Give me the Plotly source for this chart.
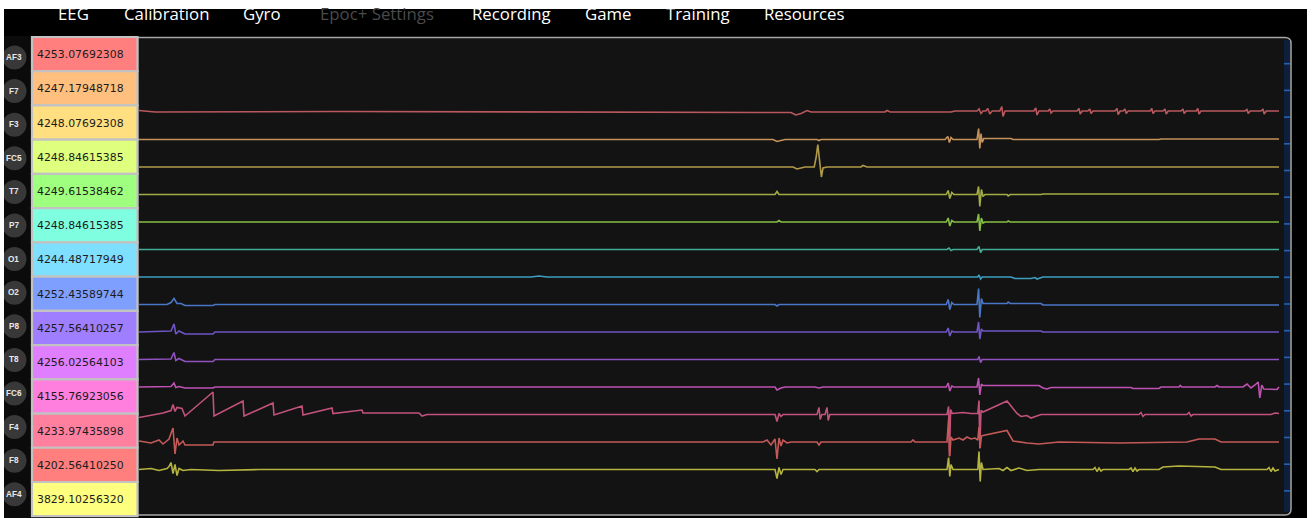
import plotly.graph_objects as go

W, H = 1314, 518

# ---------------- data ----------------
CHANNELS = ["AF3", "F7", "F3", "FC5", "T7", "P7", "O1", "O2", "P8", "T8", "FC6", "F4", "F8", "AF4"]
READOUTS = ["4253.07692308", "4247.17948718", "4248.07692308", "4248.84615385", "4249.61538462",
            "4248.84615385", "4244.48717949", "4252.43589744", "4257.56410257", "4256.02564103",
            "4155.76923056", "4233.97435898", "4202.56410250", "3829.10256320"]
BOX_COLORS = ["#ff7f7f", "#ffbf7f", "#ffdf7f", "#dfff7f", "#9fff7f", "#7fffdf", "#7fdfff",
              "#7f9fff", "#9f7fff", "#df7fff", "#ff7fdf", "#ff7f9f", "#ff7f7f", "#ffff7f"]
TRACE_COLORS = ["#b9595f", "#c4925a", "#b09a48", "#a4ad45", "#86be44", "#42ad98", "#3c9fc0",
                "#4a76c6", "#6f55c6", "#8f52bf", "#bf52b3", "#c2527c", "#c45a58", "#b4b43e"]
MENU = ["EEG", "Calibration", "Gyro", "Epoc+ Settings", "Recording", "Game", "Training", "Resources"]

# (time s, deviation µV)
AF3 = [(0, 3), (0.4, 0), (5, 1), (10, 0), (15.4, 0), (16.3, -1), (16.42, -6), (16.55, -3), (16.7, 3),
       (16.8, 0), (18.65, 0), (18.7, 3), (18.78, 0), (20.3, 0), (20.4, 2),
       (20.95, 2), (21.0, 6), (21.05, -3), (21.1, 2), (21.17, 2), (21.22, 7), (21.27, -4), (21.33, 2),
       (21.52, 2), (21.57, 11), (21.6, -9), (21.65, 2), (22.37, 2), (22.42, 8), (22.45, -6), (22.5, 2),
       (22.73, 2), (22.77, 6), (22.8, -2), (22.85, 2), (23.45, 2), (23.5, 7), (23.53, -4), (23.58, 2),
       (23.72, 2), (23.77, 6), (23.8, -3), (23.85, 2), (24.4, 2), (24.45, 7), (24.48, -5), (24.53, 2),
       (24.6, 2), (24.65, 6), (24.68, -3), (24.73, 2), (25.28, 2), (25.32, 7), (25.35, -3), (25.4, 2),
       (25.6, 2), (25.65, 6), (25.68, -4), (25.73, 2), (26.05, 2), (26.1, 6), (26.13, -3), (26.18, 2),
       (26.43, 2), (26.47, 7), (26.5, -4), (26.55, 2), (27.65, 2), (27.7, 5), (27.73, -3), (27.78, 2),
       (28.05, 2), (28.1, 6), (28.13, -4), (28.18, 2), (28.5, 2)]
F7 = [(0, 0), (10, 0), (15.85, 0), (15.95, -4), (16.05, -2), (16.15, 0), (16.95, 0), (17.0, -2),
      (17.05, 0), (20.15, 0), (20.22, 6), (20.26, -6), (20.3, 4), (20.35, 0), (20.95, 0), (20.99, 22),
      (21.02, -18), (21.05, 12), (21.08, -6), (21.12, 2), (21.8, 2), (21.85, 0), (25.5, 0), (25.55, 1),
      (28.5, 1)]
F3 = [(0, 0), (16.35, 0), (16.45, -4), (16.55, -2), (16.65, 0), (16.88, 0), (16.93, 20), (16.97, 45),
      (17.02, 10), (17.06, -20), (17.1, -2), (17.2, 0), (18.05, 0), (18.1, 3), (18.2, 0), (28.5, 0)]
FC5 = [(0, 0), (15.9, 0), (15.95, 6), (16.0, 0), (20.18, 0), (20.23, 8), (20.27, -8), (20.32, 4),
       (20.37, 0), (20.95, 0), (20.99, 16), (21.02, -24), (21.06, 10), (21.1, -4), (21.15, 0),
       (21.7, 0), (21.73, -3), (21.78, 0), (22.55, 0), (22.6, 1), (28.5, 1)]
T7 = [(0, 0), (15.95, 0), (16.0, 3), (16.05, 0), (20.18, 0), (20.23, 8), (20.27, -8), (20.32, 3),
      (20.37, 0), (20.95, 0), (20.99, 16), (21.02, -18), (21.06, 8), (21.1, -2), (21.15, 0),
      (21.7, 0), (21.73, 2), (21.78, 0), (28.5, 0)]
P7 = [(0, 0), (20.2, 0), (20.25, 3), (20.3, -2), (20.35, 0), (20.95, 0), (21.0, 6), (21.04, -6),
      (21.08, 0), (28.5, 0)]
O1 = [(0, 0), (9.8, 0), (10.0, 2), (10.2, 0), (20.97, 0), (21.0, 4), (21.04, -4), (21.08, 0),
      (21.8, 0), (21.9, -3), (22.3, -3), (22.4, -1), (22.45, -4), (22.55, -1), (22.6, 0), (28.5, 0)]
O2 = [(0, 0), (0.7, 0), (0.8, 4), (0.875, 12), (0.95, 2), (1.05, 2), (1.15, -2), (1.85, -2),
      (1.9, 0), (15.9, 0), (15.95, -3), (16.0, 0), (20.18, 0), (20.23, 10), (20.27, -10), (20.32, 4),
      (20.37, 0), (20.95, 0), (20.99, 32), (21.02, -26), (21.06, 12), (21.1, 2), (21.7, 2),
      (21.73, 5), (21.78, 2), (22.55, 2), (22.6, -1), (28.5, -1)]
P8 = [(0, 0), (0.5, 1), (0.8, 2), (0.875, 16), (0.92, -4), (1.0, 2), (1.1, -2), (1.15, -4),
      (1.85, -4), (1.9, 0), (20.18, 0), (20.23, 8), (20.27, -8), (20.32, 2), (20.37, 0), (20.95, 0),
      (20.99, 20), (21.02, -14), (21.06, 6), (21.1, 2), (22.55, 2), (22.6, 0), (28.5, 0)]
T8 = [(0, 0), (0.8, 1), (0.875, 14), (0.92, -2), (1.0, 2), (1.1, -2), (1.15, -4), (1.85, -4),
      (1.9, 0), (20.97, 0), (21.0, 6), (21.04, -6), (21.08, 0), (28.5, 0)]
FC6 = [(0, 0), (0.8, 1), (0.875, 8), (0.92, -1), (1.0, 1), (1.15, -2), (1.85, -2), (1.9, 0),
       (15.9, 0), (15.95, -6), (16.05, -2), (16.15, 0), (16.9, 0), (17.0, -2), (17.1, 0), (20.18, 0),
       (20.23, 8), (20.27, -8), (20.32, 2), (20.37, 0), (20.95, 0), (20.99, 18), (21.02, -16),
       (21.06, 6), (21.1, 3), (22.5, 3), (22.6, -2), (22.7, -4), (22.8, -1), (24.8, -1), (24.85, -3),
       (25.5, -3), (25.55, 0), (26.0, 0), (26.03, 3), (26.07, 0), (26.9, 0), (26.95, 3), (27.0, 0),
       (27.6, 0), (27.7, 6), (27.8, -2), (27.9, 4), (27.98, 10), (28.02, -22), (28.07, 4),
       (28.12, -4), (28.3, -4), (28.45, -5), (28.5, 0)]
F4 = [(0, -6), (0.6, 3), (0.8, 8), (0.85, 20), (0.9, 6), (0.95, 14), (1.075, 12), (1.15, -3),
      (1.85, 45), (1.875, -3), (2.6, 27), (2.625, -3), (3.35, 23), (3.375, -1), (4.075, 17),
      (4.1, -1), (4.825, 13), (4.85, 2), (5.575, 9), (5.6, 3), (7.0, 3), (7.075, -3), (7.2, 0),
      (15.9, 0), (15.95, -14), (16.0, 2), (16.05, -4), (16.1, 0), (16.95, 0), (17.0, 14),
      (17.03, -10), (17.07, 0), (17.15, 0), (17.2, 14), (17.23, -12), (17.27, 0), (20.2, 0),
      (20.24, 16), (20.26, -84), (20.29, 10), (20.33, 2), (20.6, 4), (20.8, 2), (20.97, 2),
      (21.0, 28), (21.02, -68), (21.05, 8), (21.1, 5), (21.7, 27), (21.95, 2), (22.05, -4),
      (22.2, -2), (22.3, -7), (22.45, -3), (22.55, 0), (25.0, 0), (25.05, 4), (25.1, -4),
      (25.15, 0), (26.2, 0), (26.25, 4), (26.3, -3), (26.35, 0), (28.3, 0), (28.4, 3), (28.5, 2)]
F8 = [(0, 2), (0.3, -2), (0.5, 4), (0.6, -4), (0.75, 6), (0.85, 28), (0.9, -24), (0.95, 8),
      (1.0, -6), (1.1, 2), (1.15, -6), (1.85, -6), (1.875, 0), (15.6, 0), (15.7, 4), (15.8, -6),
      (15.9, 6), (15.95, -34), (16.0, 8), (16.05, -8), (16.1, 4), (16.2, -2), (16.3, 0), (16.95, 0),
      (17.0, -6), (17.05, 0), (19.3, 0), (19.35, 4), (19.4, 0), (20.2, 0), (20.24, 46),
      (20.27, -28), (20.3, 10), (20.35, 4), (20.5, 8), (20.6, 4), (20.7, 10), (20.8, 6), (20.9, 8),
      (20.97, 4), (21.0, 30), (21.03, -12), (21.06, 12), (21.1, 13), (21.7, 23), (21.85, 2),
      (22.2, -2), (22.5, -4), (23.0, 0), (24.5, -2), (26.2, 0), (26.5, 6), (26.9, 6),
      (27.05, 0), (28.5, 0)]
AF4 = [(0, 0), (0.3, 2), (0.5, -2), (0.7, 2), (0.75, 6), (0.8, 14), (0.85, -8), (0.9, 10),
       (0.95, -12), (1.0, 2), (1.1, -2), (1.3, 0), (2.0, -2), (3.0, 0), (15.9, 0), (15.95, -18),
       (16.0, 4), (16.05, -10), (16.1, 0), (16.9, 0), (16.95, -4), (17.0, 0), (20.2, 0),
       (20.24, 24), (20.27, -14), (20.3, 10), (20.35, 0), (20.97, 0), (21.0, 36), (21.03, -24),
       (21.06, 14), (21.1, 0), (21.5, 2), (21.6, -2), (21.7, 4), (21.8, -2), (22.0, 3), (22.2, -2),
       (22.5, 0), (23.85, 0), (23.9, 4), (23.95, -4), (24.0, 3), (24.05, -3), (24.1, 0),
       (24.75, 0), (24.8, 3), (24.85, -4), (24.9, 3), (24.95, -3), (25.0, 0), (25.5, 0), (25.6, 5),
       (26.0, 7), (26.9, 5), (27.05, 0), (28.2, 0), (28.25, 4), (28.3, -4), (28.35, 3), (28.4, -3),
       (28.5, 0)]
SERIES = [AF3, F7, F3, FC5, T7, P7, O1, O2, P8, T8, FC6, F4, F8, AF4]

# ---------------- layout helpers ----------------
def px(x):
    return x / W

def py(y):
    return 1 - y / H

CH_SPACING = 55.0  # µV between stacked channels

fig = go.Figure()
for i, (name, pts) in enumerate(zip(CHANNELS, SERIES)):
    fig.add_trace(go.Scatter(
        x=[p[0] for p in pts],
        y=[p[1] - i * CH_SPACING for p in pts],
        mode="lines", name=name,
        line=dict(color=TRACE_COLORS[i], width=1.6),
        hoverinfo="skip", showlegend=False,
    ))

shapes = []
# left column backdrop
shapes.append(dict(type="rect", xref="paper", yref="paper", x0=px(4), x1=px(32), y0=py(518), y1=py(36),
                   fillcolor="#0b0b0b", line=dict(width=0), layer="below"))
# panel with rounded right corners
L, R, T, B, r = 137.5, 1291, 37.5, 515, 6
path = (f"M {px(L)} {py(T)} L {px(R - r)} {py(T)} Q {px(R)} {py(T)} {px(R)} {py(T + r)} "
        f"L {px(R)} {py(B - r)} Q {px(R)} {py(B)} {px(R - r)} {py(B)} L {px(L)} {py(B)} Z")
shapes.append(dict(type="path", xref="paper", yref="paper", path=path, fillcolor="#131313",
                   line=dict(color="#a6a6a6", width=1.5), layer="below"))
# scrollbar strip
shapes.append(dict(type="rect", xref="paper", yref="paper", x0=px(1284), x1=px(1290), y0=py(512),
                   y1=py(40), fillcolor="#0d1f3d", line=dict(width=0), layer="above"))
for k in range(17):
    yy = 63.7 + 26.7 * k
    shapes.append(dict(type="rect", xref="paper", yref="paper", x0=px(1284), x1=px(1290),
                       y0=py(yy + 0.8), y1=py(yy - 0.8), fillcolor="#2363b0", line=dict(width=0),
                       layer="above"))

annotations = []
BOX_TOP, BOX_PITCH = 37.0, 34.23
for i, name in enumerate(CHANNELS):
    t0 = BOX_TOP + BOX_PITCH * i
    shapes.append(dict(type="rect", xref="paper", yref="paper", x0=px(32), x1=px(137.5),
                       y0=py(t0 + BOX_PITCH), y1=py(t0), fillcolor=BOX_COLORS[i],
                       line=dict(color="#c2c2c2", width=2.2), layer="above"))
    annotations.append(dict(xref="paper", yref="paper", x=px(34.5), y=py(t0 + BOX_PITCH / 2 + 0.5),
                            xanchor="left", yanchor="middle", showarrow=False, text=READOUTS[i],
                            font=dict(family="DejaVu Sans", size=10.9, color="#1c1c1c")))
    cy = 57.5 + 33.6 * i
    shapes.append(dict(type="circle", xref="paper", yref="paper", x0=px(2.5), x1=px(26.5),
                       y0=py(cy + 12), y1=py(cy - 12), fillcolor="#383838", line=dict(width=0),
                       layer="above"))
    annotations.append(dict(xref="paper", yref="paper", x=px(13.5), y=py(cy), xanchor="center",
                            yanchor="middle", showarrow=False, text=f"<b>{name}</b>",
                            font=dict(family="Liberation Sans", size=8.2, color="#e8e8e8")))

# menu bar
MENU_X = [73, 166, 262, 377, 511, 608, 698, 804]
for label, xc in zip(MENU, MENU_X):
    annotations.append(dict(xref="paper", yref="paper", x=px(xc), y=py(13.8), xanchor="center",
                            yanchor="middle", showarrow=False, text=label,
                            font=dict(family="Open Sans", size=16.8,
                                      color="#4a4a4a" if label.startswith("Epoc") else "#ffffff")))

# white window edges
for x0, x1, y0, y1 in [(0, W, 0, 9), (0, 4, 0, H), (1307, W, 0, H)]:
    shapes.append(dict(type="rect", xref="paper", yref="paper", x0=px(x0), x1=px(x1), y0=py(y1),
                       y1=py(y0), fillcolor="#ffffff", line=dict(width=0), layer="above"))

fig.update_layout(
    width=W, height=H, margin=dict(l=0, r=0, t=0, b=0),
    paper_bgcolor="#000000", plot_bgcolor="rgba(0,0,0,0)",
    xaxis=dict(domain=[px(139), px(1283)], range=[0, 28.6], visible=False, fixedrange=True),
    yaxis=dict(domain=[py(515), py(38)], range=[-806, 148], visible=False, fixedrange=True),
    shapes=shapes, annotations=annotations, showlegend=False,
)

fig.write_html("out.html", config={"displayModeBar": False},
               post_script="document.body.style.margin='0';document.body.style.overflow='hidden';")
